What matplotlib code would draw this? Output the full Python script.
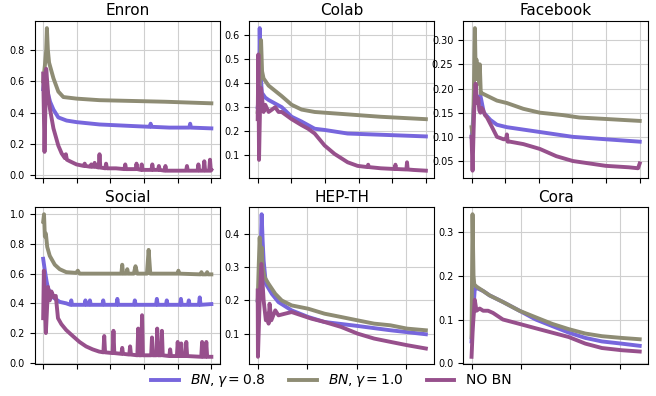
import numpy as np
import matplotlib
matplotlib.use('Agg')
from matplotlib import pyplot as plt

# ---- data ----
titles = ['Enron', 'Colab', 'Facebook', 'Social', 'HEP-TH', 'Cora']
labels = [r'$BN, \gamma = 0.8$', r'$BN, \gamma = 1.0$', 'NO BN']
colors = ['#7766dd', '#8e8c74', '#97508c']

# Enron
enron_bn08_x = [0, 5, 12, 22, 41, 61, 90, 139, 198, 335, 531, 634, 639, 644, 750, 869, 874, 879, 1000]
enron_bn08 = [0.55, 0.60, 0.58, 0.55, 0.47, 0.42, 0.37, 0.35, 0.34, 0.325, 0.315, 0.31, 0.33, 0.31, 0.305, 0.305, 0.33, 0.305, 0.30]
enron_bn10_x = [0, 10, 18, 22, 28, 35, 61, 90, 120, 198, 335, 531, 727, 1000]
enron_bn10 = [0.60, 0.70, 0.80, 0.94, 0.80, 0.72, 0.62, 0.535, 0.50, 0.49, 0.48, 0.475, 0.47, 0.46]
enron_nobn_x = [0, 8, 18, 31, 41, 61, 90, 110, 129, 135, 141, 159, 198,
                242, 247, 252, 281, 286, 291, 301, 306, 311, 330, 335, 340, 369, 374, 379, 433,
                483, 488, 493, 550, 555, 560, 581, 586, 591, 644, 649, 654, 683, 688, 693,
                722, 727, 732, 850, 855, 860, 918, 923, 928, 953, 958, 963, 987, 992, 997, 1000]
enron_nobn = [0.65, 0.15, 0.68, 0.50, 0.42, 0.30, 0.19, 0.14, 0.11, 0.135, 0.10, 0.09, 0.07,
              0.06, 0.075, 0.06, 0.055, 0.07, 0.055, 0.055, 0.08, 0.055, 0.05, 0.135, 0.05, 0.045, 0.075, 0.045, 0.045,
              0.04, 0.07, 0.04, 0.04, 0.075, 0.04, 0.035, 0.07, 0.035, 0.035, 0.07, 0.035, 0.035, 0.06, 0.035,
              0.03, 0.06, 0.03, 0.03, 0.06, 0.03, 0.03, 0.07, 0.03, 0.03, 0.09, 0.03, 0.03, 0.10, 0.03, 0.035]

# Colab
colab_bn08_x = [0, 8, 12, 16, 25, 35, 45, 65, 143, 202, 261, 339, 398, 535, 731, 1000]
colab_bn08 = [0.30, 0.35, 0.63, 0.45, 0.36, 0.35, 0.34, 0.33, 0.30, 0.26, 0.24, 0.21, 0.205, 0.19, 0.185, 0.178]
colab_bn10_x = [0, 10, 20, 26, 35, 65, 143, 202, 261, 339, 535, 731, 1000]
colab_bn10 = [0.28, 0.35, 0.58, 0.45, 0.42, 0.39, 0.346, 0.31, 0.29, 0.28, 0.27, 0.26, 0.25]
colab_nobn_x = [0, 4, 8, 14, 20, 27, 35, 45, 65, 85, 104, 124, 143,
                202, 261, 300, 339, 398, 457, 535, 594, 653, 657, 661, 731,
                815, 819, 823, 884, 888, 892, 927, 1000]
colab_nobn = [0.25, 0.52, 0.08, 0.30, 0.38, 0.33, 0.28, 0.31, 0.28, 0.29, 0.30, 0.28, 0.28,
              0.25, 0.225, 0.21, 0.19, 0.14, 0.105, 0.07, 0.055, 0.05, 0.06, 0.05, 0.045,
              0.042, 0.06, 0.042, 0.04, 0.07, 0.04, 0.038, 0.035]

# Facebook
fb_bn08_x = [0, 6, 15, 24, 35, 53, 73, 112, 151, 210, 308, 406, 602, 798, 1000]
fb_bn08 = [0.10, 0.12, 0.17, 0.19, 0.18, 0.185, 0.15, 0.135, 0.125, 0.12, 0.115, 0.11, 0.10, 0.095, 0.09]
fb_bn10_x = [0, 8, 14, 20, 25, 29, 34, 40, 45, 49, 55, 63, 92, 151, 210, 308, 406, 543, 641, 798, 1000]
fb_bn10 = [0.12, 0.10, 0.20, 0.325, 0.22, 0.26, 0.22, 0.25, 0.21, 0.25, 0.19, 0.19, 0.185, 0.175, 0.17,
           0.158, 0.15, 0.145, 0.14, 0.137, 0.133]
fb_nobn_x = [0, 6, 15, 24, 33, 40, 46, 53, 60, 69, 80, 92, 122, 151, 190, 205, 210, 215, 229,
             308, 406, 504, 602, 700, 798, 935, 990, 1000]
fb_nobn = [0.10, 0.03, 0.15, 0.21, 0.17, 0.18, 0.155, 0.15, 0.16, 0.155, 0.145, 0.14, 0.12, 0.10, 0.095,
           0.095, 0.105, 0.09, 0.09, 0.085, 0.075, 0.06, 0.05, 0.045, 0.04, 0.037, 0.035, 0.045]

# Social
social_bn08_x = [0, 10, 20, 29, 59, 98, 137, 162, 167, 172, 246, 251, 256, 273, 278, 283, 352, 357, 362,
                 436, 441, 446, 540, 545, 550, 671, 676, 681, 730, 735, 740, 814, 819, 824, 861, 866, 871,
                 926, 931, 936, 1000]
social_bn08 = [0.70, 0.62, 0.55, 0.50, 0.44, 0.41, 0.40, 0.39, 0.42, 0.39, 0.39, 0.42, 0.39, 0.39, 0.42, 0.39,
               0.39, 0.42, 0.39, 0.39, 0.43, 0.39, 0.39, 0.42, 0.39, 0.39, 0.43, 0.39, 0.39, 0.42, 0.39,
               0.39, 0.43, 0.39, 0.39, 0.42, 0.39, 0.39, 0.44, 0.39, 0.395]
social_bn10_x = [0, 5, 10, 16, 24, 39, 69, 98, 137, 196, 206, 216, 300, 465, 470, 475, 495, 500, 505, 539,
                 549, 559, 617, 627, 637, 700, 799, 804, 809, 936, 941, 946, 970, 975, 980, 1000]
social_bn10 = [0.95, 1.0, 0.85, 0.87, 0.78, 0.72, 0.66, 0.63, 0.61, 0.605, 0.62, 0.60, 0.60, 0.60, 0.66, 0.60,
               0.60, 0.63, 0.60, 0.60, 0.65, 0.60, 0.60, 0.76, 0.60, 0.60, 0.60, 0.62, 0.60, 0.595,
               0.61, 0.595, 0.595, 0.61, 0.595, 0.595]
social_nobn_x = [0, 4, 16, 29, 39, 49, 63, 75, 88, 108, 137, 176, 216, 255, 294, 333,
                 358, 363, 368, 413, 418, 423, 465, 470, 475, 512, 517, 522, 560, 565, 570,
                 583, 588, 593, 642, 647, 652, 673, 678, 683, 701, 706, 711, 750, 755, 760,
                 795, 800, 805, 816, 821, 826, 846, 851, 856, 940, 945, 950, 965, 970, 975, 1000]
social_nobn = [0.30, 0.62, 0.20, 0.51, 0.42, 0.48, 0.44, 0.45, 0.30, 0.26, 0.22, 0.18, 0.14, 0.11, 0.09, 0.075,
               0.07, 0.18, 0.07, 0.065, 0.215, 0.065, 0.06, 0.10, 0.06, 0.055, 0.11, 0.055, 0.05, 0.23, 0.05,
               0.05, 0.32, 0.05, 0.05, 0.17, 0.05, 0.05, 0.23, 0.05, 0.05, 0.215, 0.05, 0.045, 0.09, 0.045,
               0.045, 0.14, 0.045, 0.045, 0.13, 0.045, 0.045, 0.14, 0.045, 0.04, 0.14, 0.04, 0.04, 0.14, 0.04, 0.04]

# HEP-TH
hep_bn08_x = [0, 8, 12, 16, 20, 24, 33, 57, 84, 137, 204, 270, 403, 536, 679]
hep_bn08 = [0.20, 0.25, 0.35, 0.46, 0.38, 0.32, 0.25, 0.22, 0.195, 0.17, 0.15, 0.135, 0.123, 0.11, 0.098]
hep_bn10_x = [0, 4, 8, 12, 16, 20, 28, 44, 71, 97, 137, 204, 270, 337, 403, 470, 536, 603, 679]
hep_bn10 = [0.20, 0.30, 0.39, 0.33, 0.36, 0.30, 0.27, 0.25, 0.22, 0.20, 0.185, 0.175, 0.16, 0.15, 0.14,
            0.13, 0.125, 0.115, 0.11]
hep_nobn_x = [0, 1, 8, 15, 24, 33, 40, 44, 48, 55, 71, 84, 110, 137, 177, 217, 270, 337, 403, 470, 536, 603, 679]
hep_nobn = [0.23, 0.03, 0.20, 0.31, 0.20, 0.14, 0.16, 0.13, 0.19, 0.14, 0.17, 0.155, 0.16, 0.165, 0.155,
            0.145, 0.135, 0.12, 0.10, 0.085, 0.075, 0.065, 0.055]

# Cora
cora_bn08_x = [0, 5, 13, 20, 47, 73, 127, 194, 260, 327, 394, 461, 528, 608, 681]
cora_bn08 = [0.05, 0.10, 0.17, 0.172, 0.165, 0.155, 0.14, 0.12, 0.10, 0.085, 0.07, 0.058, 0.05, 0.045, 0.04]
cora_bn10_x = [0, 4, 8, 11, 20, 47, 73, 127, 194, 260, 327, 394, 461, 528, 608, 681]
cora_bn10 = [0.06, 0.34, 0.20, 0.18, 0.175, 0.165, 0.155, 0.14, 0.12, 0.105, 0.09, 0.078, 0.068, 0.062, 0.058, 0.055]
cora_nobn_x = [0, 5, 13, 20, 33, 47, 67, 87, 127, 194, 260, 327, 394, 461, 528, 608, 681]
cora_nobn = [0.015, 0.08, 0.145, 0.12, 0.125, 0.12, 0.12, 0.115, 0.10, 0.09, 0.08, 0.07, 0.06, 0.045, 0.035, 0.03, 0.027]
cora_yticks = [0.0, 0.1, 0.2, 0.3]

panels = [
    [(enron_bn08_x, enron_bn08), (enron_bn10_x, enron_bn10), (enron_nobn_x, enron_nobn)],
    [(colab_bn08_x, colab_bn08), (colab_bn10_x, colab_bn10), (colab_nobn_x, colab_nobn)],
    [(fb_bn08_x, fb_bn08), (fb_bn10_x, fb_bn10), (fb_nobn_x, fb_nobn)],
    [(social_bn08_x, social_bn08), (social_bn10_x, social_bn10), (social_nobn_x, social_nobn)],
    [(hep_bn08_x, hep_bn08), (hep_bn10_x, hep_bn10), (hep_nobn_x, hep_nobn)],
    [(cora_bn08_x, cora_bn08), (cora_bn10_x, cora_bn10), (cora_nobn_x, cora_nobn)],
]
xticks_long = [0, 200, 400, 600, 800, 1000]
xticks_short = [0, 200, 400, 600]

fig = plt.figure(figsize=(6.56, 3.96), dpi=100)
lefts = [0.053, 0.380, 0.706]
bottoms = [0.551, 0.081]
w, h = 0.282, 0.396

lines = []
for i, (title, series) in enumerate(zip(titles, panels)):
    ax = fig.add_axes([lefts[i % 3], bottoms[i // 3], w, h])
    for (xs, ys), c, lab in zip(series, colors, labels):
        ln, = ax.plot(xs, ys, color=c, lw=2.8, label=lab, solid_joinstyle='round')
        if i == 0:
            lines.append(ln)
    ax.set_title(title, fontsize=11, pad=4)
    ax.set_xticks(xticks_short if i >= 4 else xticks_long)
    ax.set_xticklabels([])
    if title == 'Cora':
        ax.set_yticks(cora_yticks)
    ax.tick_params(axis='y', labelsize=7)
    ax.grid(True, color='#cfcfcf', lw=0.8)

fig.legend(lines, labels, loc='center', bbox_to_anchor=(0.505, 0.038), ncol=3,
           frameon=False, fontsize=10, columnspacing=1.7, handlelength=2.0)

fig.savefig('out.png', dpi=100)
